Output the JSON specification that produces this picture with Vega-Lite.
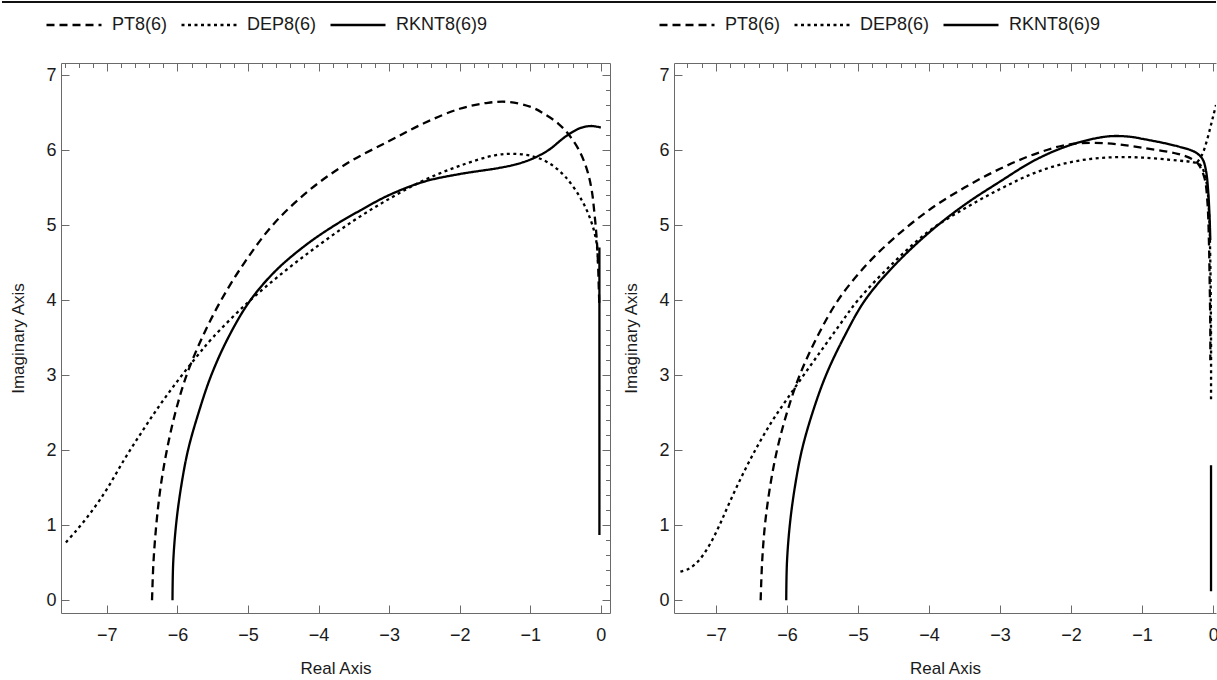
{
  "$schema": "https://vega.github.io/schema/vega-lite/v6.json",
  "background": "white",
  "padding": {"left": 0, "top": 1, "right": 0, "bottom": 0},
  "config": {"view": {"stroke": null}, "font": "Liberation Sans"},
  "spacing": 13,
  "data": {"values": [
    {"panel":"L","method":"PT8(6)","seg":1,"re":-6.36,"im":0},
    {"panel":"L","method":"PT8(6)","seg":1,"re":-6.34,"im":0.5},
    {"panel":"L","method":"PT8(6)","seg":1,"re":-6.3,"im":1.0},
    {"panel":"L","method":"PT8(6)","seg":1,"re":-6.24,"im":1.5},
    {"panel":"L","method":"PT8(6)","seg":1,"re":-6.15,"im":2.0},
    {"panel":"L","method":"PT8(6)","seg":1,"re":-6.03,"im":2.5},
    {"panel":"L","method":"PT8(6)","seg":1,"re":-5.87,"im":3.0},
    {"panel":"L","method":"PT8(6)","seg":1,"re":-5.65,"im":3.5},
    {"panel":"L","method":"PT8(6)","seg":1,"re":-5.38,"im":4.0},
    {"panel":"L","method":"PT8(6)","seg":1,"re":-5.05,"im":4.5},
    {"panel":"L","method":"PT8(6)","seg":1,"re":-4.65,"im":5.0},
    {"panel":"L","method":"PT8(6)","seg":1,"re":-4.15,"im":5.45},
    {"panel":"L","method":"PT8(6)","seg":1,"re":-3.6,"im":5.82},
    {"panel":"L","method":"PT8(6)","seg":1,"re":-3.0,"im":6.12},
    {"panel":"L","method":"PT8(6)","seg":1,"re":-2.5,"im":6.36},
    {"panel":"L","method":"PT8(6)","seg":1,"re":-2.0,"im":6.55},
    {"panel":"L","method":"PT8(6)","seg":1,"re":-1.6,"im":6.63},
    {"panel":"L","method":"PT8(6)","seg":1,"re":-1.3,"im":6.64},
    {"panel":"L","method":"PT8(6)","seg":1,"re":-0.98,"im":6.57},
    {"panel":"L","method":"PT8(6)","seg":1,"re":-0.8,"im":6.48},
    {"panel":"L","method":"PT8(6)","seg":1,"re":-0.6,"im":6.35},
    {"panel":"L","method":"PT8(6)","seg":1,"re":-0.45,"im":6.2},
    {"panel":"L","method":"PT8(6)","seg":1,"re":-0.31,"im":6.0},
    {"panel":"L","method":"PT8(6)","seg":1,"re":-0.2,"im":5.75},
    {"panel":"L","method":"PT8(6)","seg":1,"re":-0.13,"im":5.47},
    {"panel":"L","method":"PT8(6)","seg":1,"re":-0.09,"im":5.15},
    {"panel":"L","method":"PT8(6)","seg":1,"re":-0.06,"im":4.84},
    {"panel":"L","method":"PT8(6)","seg":1,"re":-0.04,"im":4.5},
    {"panel":"L","method":"PT8(6)","seg":1,"re":-0.03,"im":4.2},
    {"panel":"L","method":"PT8(6)","seg":1,"re":-0.02,"im":3.9},

    {"panel":"L","method":"DEP8(6)","seg":1,"re":-7.58,"im":0.77},
    {"panel":"L","method":"DEP8(6)","seg":1,"re":-7.45,"im":0.91},
    {"panel":"L","method":"DEP8(6)","seg":1,"re":-7.3,"im":1.08},
    {"panel":"L","method":"DEP8(6)","seg":1,"re":-7.15,"im":1.27},
    {"panel":"L","method":"DEP8(6)","seg":1,"re":-7.0,"im":1.48},
    {"panel":"L","method":"DEP8(6)","seg":1,"re":-6.75,"im":1.88},
    {"panel":"L","method":"DEP8(6)","seg":1,"re":-6.5,"im":2.25},
    {"panel":"L","method":"DEP8(6)","seg":1,"re":-6.25,"im":2.6},
    {"panel":"L","method":"DEP8(6)","seg":1,"re":-6.0,"im":2.92},
    {"panel":"L","method":"DEP8(6)","seg":1,"re":-5.75,"im":3.22},
    {"panel":"L","method":"DEP8(6)","seg":1,"re":-5.5,"im":3.5},
    {"panel":"L","method":"DEP8(6)","seg":1,"re":-5.0,"im":3.97},
    {"panel":"L","method":"DEP8(6)","seg":1,"re":-4.5,"im":4.37},
    {"panel":"L","method":"DEP8(6)","seg":1,"re":-4.0,"im":4.73},
    {"panel":"L","method":"DEP8(6)","seg":1,"re":-3.5,"im":5.06},
    {"panel":"L","method":"DEP8(6)","seg":1,"re":-3.0,"im":5.35},
    {"panel":"L","method":"DEP8(6)","seg":1,"re":-2.5,"im":5.6},
    {"panel":"L","method":"DEP8(6)","seg":1,"re":-2.0,"im":5.79},
    {"panel":"L","method":"DEP8(6)","seg":1,"re":-1.5,"im":5.93},
    {"panel":"L","method":"DEP8(6)","seg":1,"re":-1.25,"im":5.95},
    {"panel":"L","method":"DEP8(6)","seg":1,"re":-0.98,"im":5.92},
    {"panel":"L","method":"DEP8(6)","seg":1,"re":-0.74,"im":5.83},
    {"panel":"L","method":"DEP8(6)","seg":1,"re":-0.5,"im":5.64},
    {"panel":"L","method":"DEP8(6)","seg":1,"re":-0.27,"im":5.33},
    {"panel":"L","method":"DEP8(6)","seg":1,"re":-0.13,"im":5.03},
    {"panel":"L","method":"DEP8(6)","seg":1,"re":-0.06,"im":4.76},
    {"panel":"L","method":"DEP8(6)","seg":1,"re":-0.04,"im":4.5},

    {"panel":"L","method":"RKNT8(6)9","seg":1,"re":-6.07,"im":0},
    {"panel":"L","method":"RKNT8(6)9","seg":1,"re":-6.06,"im":0.5},
    {"panel":"L","method":"RKNT8(6)9","seg":1,"re":-6.02,"im":1.0},
    {"panel":"L","method":"RKNT8(6)9","seg":1,"re":-5.95,"im":1.5},
    {"panel":"L","method":"RKNT8(6)9","seg":1,"re":-5.85,"im":2.0},
    {"panel":"L","method":"RKNT8(6)9","seg":1,"re":-5.7,"im":2.5},
    {"panel":"L","method":"RKNT8(6)9","seg":1,"re":-5.52,"im":3.0},
    {"panel":"L","method":"RKNT8(6)9","seg":1,"re":-5.28,"im":3.5},
    {"panel":"L","method":"RKNT8(6)9","seg":1,"re":-4.98,"im":3.98},
    {"panel":"L","method":"RKNT8(6)9","seg":1,"re":-4.62,"im":4.38},
    {"panel":"L","method":"RKNT8(6)9","seg":1,"re":-4.2,"im":4.72},
    {"panel":"L","method":"RKNT8(6)9","seg":1,"re":-3.8,"im":4.98},
    {"panel":"L","method":"RKNT8(6)9","seg":1,"re":-3.4,"im":5.2},
    {"panel":"L","method":"RKNT8(6)9","seg":1,"re":-3.0,"im":5.4},
    {"panel":"L","method":"RKNT8(6)9","seg":1,"re":-2.5,"im":5.58},
    {"panel":"L","method":"RKNT8(6)9","seg":1,"re":-2.0,"im":5.68},
    {"panel":"L","method":"RKNT8(6)9","seg":1,"re":-1.45,"im":5.76},
    {"panel":"L","method":"RKNT8(6)9","seg":1,"re":-1.2,"im":5.81},
    {"panel":"L","method":"RKNT8(6)9","seg":1,"re":-0.98,"im":5.88},
    {"panel":"L","method":"RKNT8(6)9","seg":1,"re":-0.74,"im":6.0},
    {"panel":"L","method":"RKNT8(6)9","seg":1,"re":-0.5,"im":6.18},
    {"panel":"L","method":"RKNT8(6)9","seg":1,"re":-0.3,"im":6.29},
    {"panel":"L","method":"RKNT8(6)9","seg":1,"re":-0.15,"im":6.32},
    {"panel":"L","method":"RKNT8(6)9","seg":1,"re":-0.05,"im":6.31},
    {"panel":"L","method":"RKNT8(6)9","seg":1,"re":0.0,"im":6.3},
    {"panel":"L","method":"RKNT8(6)9","seg":2,"re":-0.02,"im":4.7},
    {"panel":"L","method":"RKNT8(6)9","seg":2,"re":-0.02,"im":0.87},

    {"panel":"R","method":"PT8(6)","seg":1,"re":-6.37,"im":0},
    {"panel":"R","method":"PT8(6)","seg":1,"re":-6.35,"im":0.5},
    {"panel":"R","method":"PT8(6)","seg":1,"re":-6.31,"im":1.0},
    {"panel":"R","method":"PT8(6)","seg":1,"re":-6.24,"im":1.5},
    {"panel":"R","method":"PT8(6)","seg":1,"re":-6.14,"im":2.0},
    {"panel":"R","method":"PT8(6)","seg":1,"re":-6.0,"im":2.5},
    {"panel":"R","method":"PT8(6)","seg":1,"re":-5.82,"im":3.0},
    {"panel":"R","method":"PT8(6)","seg":1,"re":-5.58,"im":3.5},
    {"panel":"R","method":"PT8(6)","seg":1,"re":-5.28,"im":4.0},
    {"panel":"R","method":"PT8(6)","seg":1,"re":-4.9,"im":4.45},
    {"panel":"R","method":"PT8(6)","seg":1,"re":-4.5,"im":4.82},
    {"panel":"R","method":"PT8(6)","seg":1,"re":-4.0,"im":5.2},
    {"panel":"R","method":"PT8(6)","seg":1,"re":-3.5,"im":5.5},
    {"panel":"R","method":"PT8(6)","seg":1,"re":-3.0,"im":5.75},
    {"panel":"R","method":"PT8(6)","seg":1,"re":-2.5,"im":5.95},
    {"panel":"R","method":"PT8(6)","seg":1,"re":-2.0,"im":6.08},
    {"panel":"R","method":"PT8(6)","seg":1,"re":-1.5,"im":6.09},
    {"panel":"R","method":"PT8(6)","seg":1,"re":-1.0,"im":6.03},
    {"panel":"R","method":"PT8(6)","seg":1,"re":-0.5,"im":5.95},
    {"panel":"R","method":"PT8(6)","seg":1,"re":-0.3,"im":5.88},
    {"panel":"R","method":"PT8(6)","seg":1,"re":-0.2,"im":5.8},
    {"panel":"R","method":"PT8(6)","seg":1,"re":-0.12,"im":5.62},
    {"panel":"R","method":"PT8(6)","seg":1,"re":-0.08,"im":5.3},
    {"panel":"R","method":"PT8(6)","seg":1,"re":-0.06,"im":4.8},
    {"panel":"R","method":"PT8(6)","seg":1,"re":-0.05,"im":4.3},
    {"panel":"R","method":"PT8(6)","seg":1,"re":-0.04,"im":3.6},
    {"panel":"R","method":"PT8(6)","seg":1,"re":-0.04,"im":3.2},

    {"panel":"R","method":"DEP8(6)","seg":1,"re":-7.5,"im":0.38},
    {"panel":"R","method":"DEP8(6)","seg":1,"re":-7.38,"im":0.42},
    {"panel":"R","method":"DEP8(6)","seg":1,"re":-7.25,"im":0.52},
    {"panel":"R","method":"DEP8(6)","seg":1,"re":-7.1,"im":0.72},
    {"panel":"R","method":"DEP8(6)","seg":1,"re":-6.95,"im":1.0},
    {"panel":"R","method":"DEP8(6)","seg":1,"re":-6.8,"im":1.32},
    {"panel":"R","method":"DEP8(6)","seg":1,"re":-6.6,"im":1.72},
    {"panel":"R","method":"DEP8(6)","seg":1,"re":-6.4,"im":2.08},
    {"panel":"R","method":"DEP8(6)","seg":1,"re":-6.2,"im":2.4},
    {"panel":"R","method":"DEP8(6)","seg":1,"re":-6.0,"im":2.68},
    {"panel":"R","method":"DEP8(6)","seg":1,"re":-5.75,"im":3.02},
    {"panel":"R","method":"DEP8(6)","seg":1,"re":-5.5,"im":3.35},
    {"panel":"R","method":"DEP8(6)","seg":1,"re":-5.25,"im":3.68},
    {"panel":"R","method":"DEP8(6)","seg":1,"re":-5.0,"im":4.0},
    {"panel":"R","method":"DEP8(6)","seg":1,"re":-4.5,"im":4.5},
    {"panel":"R","method":"DEP8(6)","seg":1,"re":-4.0,"im":4.92},
    {"panel":"R","method":"DEP8(6)","seg":1,"re":-3.5,"im":5.22},
    {"panel":"R","method":"DEP8(6)","seg":1,"re":-3.0,"im":5.48},
    {"panel":"R","method":"DEP8(6)","seg":1,"re":-2.5,"im":5.7},
    {"panel":"R","method":"DEP8(6)","seg":1,"re":-2.0,"im":5.84},
    {"panel":"R","method":"DEP8(6)","seg":1,"re":-1.5,"im":5.9},
    {"panel":"R","method":"DEP8(6)","seg":1,"re":-1.0,"im":5.9},
    {"panel":"R","method":"DEP8(6)","seg":1,"re":-0.5,"im":5.86},
    {"panel":"R","method":"DEP8(6)","seg":1,"re":-0.3,"im":5.84},
    {"panel":"R","method":"DEP8(6)","seg":1,"re":-0.18,"im":5.8},
    {"panel":"R","method":"DEP8(6)","seg":1,"re":-0.1,"im":5.6},
    {"panel":"R","method":"DEP8(6)","seg":1,"re":-0.06,"im":5.2},
    {"panel":"R","method":"DEP8(6)","seg":1,"re":-0.04,"im":4.5},
    {"panel":"R","method":"DEP8(6)","seg":1,"re":-0.03,"im":3.5},
    {"panel":"R","method":"DEP8(6)","seg":1,"re":-0.03,"im":2.65},
    {"panel":"R","method":"DEP8(6)","seg":2,"re":-0.22,"im":5.84},
    {"panel":"R","method":"DEP8(6)","seg":2,"re":-0.15,"im":5.95},
    {"panel":"R","method":"DEP8(6)","seg":2,"re":-0.09,"im":6.12},
    {"panel":"R","method":"DEP8(6)","seg":2,"re":-0.04,"im":6.3},
    {"panel":"R","method":"DEP8(6)","seg":2,"re":0.0,"im":6.45},
    {"panel":"R","method":"DEP8(6)","seg":2,"re":0.04,"im":6.6},

    {"panel":"R","method":"RKNT8(6)9","seg":1,"re":-6.01,"im":0},
    {"panel":"R","method":"RKNT8(6)9","seg":1,"re":-6.0,"im":0.5},
    {"panel":"R","method":"RKNT8(6)9","seg":1,"re":-5.96,"im":1.0},
    {"panel":"R","method":"RKNT8(6)9","seg":1,"re":-5.89,"im":1.5},
    {"panel":"R","method":"RKNT8(6)9","seg":1,"re":-5.79,"im":2.0},
    {"panel":"R","method":"RKNT8(6)9","seg":1,"re":-5.64,"im":2.5},
    {"panel":"R","method":"RKNT8(6)9","seg":1,"re":-5.45,"im":3.0},
    {"panel":"R","method":"RKNT8(6)9","seg":1,"re":-5.2,"im":3.5},
    {"panel":"R","method":"RKNT8(6)9","seg":1,"re":-4.9,"im":4.0},
    {"panel":"R","method":"RKNT8(6)9","seg":1,"re":-4.5,"im":4.45},
    {"panel":"R","method":"RKNT8(6)9","seg":1,"re":-4.0,"im":4.9},
    {"panel":"R","method":"RKNT8(6)9","seg":1,"re":-3.5,"im":5.27},
    {"panel":"R","method":"RKNT8(6)9","seg":1,"re":-3.0,"im":5.58},
    {"panel":"R","method":"RKNT8(6)9","seg":1,"re":-2.5,"im":5.87},
    {"panel":"R","method":"RKNT8(6)9","seg":1,"re":-2.0,"im":6.07},
    {"panel":"R","method":"RKNT8(6)9","seg":1,"re":-1.5,"im":6.18},
    {"panel":"R","method":"RKNT8(6)9","seg":1,"re":-1.2,"im":6.18},
    {"panel":"R","method":"RKNT8(6)9","seg":1,"re":-1.0,"im":6.15},
    {"panel":"R","method":"RKNT8(6)9","seg":1,"re":-0.5,"im":6.05},
    {"panel":"R","method":"RKNT8(6)9","seg":1,"re":-0.25,"im":5.97},
    {"panel":"R","method":"RKNT8(6)9","seg":1,"re":-0.15,"im":5.88},
    {"panel":"R","method":"RKNT8(6)9","seg":1,"re":-0.1,"im":5.72},
    {"panel":"R","method":"RKNT8(6)9","seg":1,"re":-0.07,"im":5.45},
    {"panel":"R","method":"RKNT8(6)9","seg":1,"re":-0.05,"im":5.1},
    {"panel":"R","method":"RKNT8(6)9","seg":1,"re":-0.04,"im":4.8},
    {"panel":"R","method":"RKNT8(6)9","seg":2,"re":-0.03,"im":1.8},
    {"panel":"R","method":"RKNT8(6)9","seg":2,"re":-0.03,"im":0.12}
  ]},
  "vconcat": [
    {
      "width": 1155, "height": 1,
      "data": {"values": [{"from": -0.0511, "to": 1, "edge": 1}]},
      "mark": {"type": "rule", "color": "#111111", "strokeWidth": 2, "clip": false},
      "encoding": {
        "x": {"field": "from", "type": "quantitative", "scale": {"domain": [0, 1], "nice": false, "zero": false}, "axis": null},
        "x2": {"field": "to"},
        "y": {"field": "edge", "type": "quantitative", "scale": {"domain": [0, 1]}, "axis": null}
      }
    },
    {
      "spacing": 11,
      "resolve": {"scale": {"strokeDash": "independent"}, "legend": {"strokeDash": "independent"}},
      "hconcat": [
        {
          "width": 549, "height": 550,
          "transform": [{"filter": "datum.panel === 'L'"}],
          "layer": [
            {
              "mark": {"type": "line", "interpolate": "catmull-rom", "strokeWidth": 2.3, "color": "black", "clip": true, "strokeCap": "butt", "strokeJoin": "round"},
              "encoding": {
                "x": {"field": "re", "type": "quantitative", "scale": {"domain": [-7.65, 0.13], "nice": false, "zero": false},
                  "axis": {"orient": "bottom", "tickCount": 40,
                    "format": "d", "labelExpr": "abs(datum.value - round(datum.value)) < 0.001 ? datum.label : ''",
                    "labelFlush": false, "labelOverlap": false, "labelFontSize": 18, "labelColor": "#1a1a1a", "labelPadding": 21,
                    "tickSize": {"condition": {"test": "abs(datum.value - round(datum.value)) < 0.001", "value": -8}, "value": -4.5},
                    "tickColor": "#6a6a6a", "domainColor": "#6a6a6a", "grid": false,
                    "title": "Real Axis", "titleFontSize": 17, "titleFontWeight": "normal", "titleColor": "#1a1a1a", "titlePadding": 16}},
                "y": {"field": "im", "type": "quantitative", "scale": {"domain": [-0.17, 7.16], "nice": false, "zero": false},
                  "axis": {"orient": "left", "tickCount": 36,
                    "format": "d", "labelExpr": "abs(datum.value - round(datum.value)) < 0.001 ? datum.label : ''",
                    "labelFlush": false, "labelOverlap": false, "labelFontSize": 18, "labelColor": "#1a1a1a", "labelPadding": 13,
                    "tickSize": {"condition": {"test": "abs(datum.value - round(datum.value)) < 0.001", "value": -8}, "value": -4.5},
                    "tickColor": "#6a6a6a", "domainColor": "#6a6a6a", "grid": false,
                    "title": "Imaginary Axis", "titleFontSize": 17, "titleFontWeight": "normal", "titleColor": "#1a1a1a", "titlePadding": 18}},
                "strokeDash": {"field": "method", "type": "nominal",
                  "scale": {"domain": ["PT8(6)", "DEP8(6)", "RKNT8(6)9"], "range": [[8, 5], [3, 3.5], [1, 0]]},
                  "legend": {"title": null, "orient": "none", "legendX": 4, "legendY": -47, "direction": "horizontal", "gridAlign": "none",
                    "symbolType": "M-5,0L5,0", "symbolSize": 121, "symbolStrokeWidth": 2.3, "symbolStrokeColor": "black",
                    "labelFontSize": 18, "labelColor": "#1a1a1a", "labelOffset": 29, "columnPadding": 8, "padding": 0}},
                "detail": {"field": "seg", "type": "nominal"},
                "order": {"value": null}
              }
            },
            {
              "mark": {"type": "point", "opacity": 0},
              "encoding": {
                "x": {"field": "re", "type": "quantitative", "scale": {"domain": [-7.65, 0.13], "nice": false, "zero": false},
                  "axis": {"orient": "top", "tickCount": 40, "labels": false, "title": null, "grid": false,
                    "tickSize": {"condition": {"test": "abs(datum.value - round(datum.value)) < 0.001", "value": -8}, "value": -4.5},
                    "tickColor": "#6a6a6a", "domainColor": "#6a6a6a"}},
                "y": {"field": "im", "type": "quantitative", "scale": {"domain": [-0.17, 7.16], "nice": false, "zero": false},
                  "axis": {"orient": "right", "tickCount": 36, "labels": false, "title": null, "grid": false,
                    "tickSize": {"condition": {"test": "abs(datum.value - round(datum.value)) < 0.001", "value": -8}, "value": -4.5},
                    "tickColor": "#6a6a6a", "domainColor": "#6a6a6a"}}
              }
            }
          ],
          "resolve": {"axis": {"x": "independent", "y": "independent"}}
        },
        {
          "width": 542, "height": 550,
          "transform": [{"filter": "datum.panel === 'R'"}],
          "layer": [
            {
              "mark": {"type": "line", "interpolate": "catmull-rom", "strokeWidth": 2.3, "color": "black", "clip": true, "strokeCap": "butt", "strokeJoin": "round"},
              "encoding": {
                "x": {"field": "re", "type": "quantitative", "scale": {"domain": [-7.59, 0.04], "nice": false, "zero": false},
                  "axis": {"orient": "bottom", "tickCount": 40,
                    "format": "d", "labelExpr": "abs(datum.value - round(datum.value)) < 0.001 ? datum.label : ''",
                    "labelFlush": true, "labelOverlap": false, "labelFontSize": 18, "labelColor": "#1a1a1a", "labelPadding": 21,
                    "tickSize": {"condition": {"test": "abs(datum.value - round(datum.value)) < 0.001", "value": -8}, "value": -4.5},
                    "tickColor": "#6a6a6a", "domainColor": "#6a6a6a", "grid": false,
                    "title": "Real Axis", "titleFontSize": 17, "titleFontWeight": "normal", "titleColor": "#1a1a1a", "titlePadding": 16}},
                "y": {"field": "im", "type": "quantitative", "scale": {"domain": [-0.17, 7.16], "nice": false, "zero": false},
                  "axis": {"orient": "left", "tickCount": 36,
                    "format": "d", "labelExpr": "abs(datum.value - round(datum.value)) < 0.001 ? datum.label : ''",
                    "labelFlush": false, "labelOverlap": false, "labelFontSize": 18, "labelColor": "#1a1a1a", "labelPadding": 13,
                    "tickSize": {"condition": {"test": "abs(datum.value - round(datum.value)) < 0.001", "value": -8}, "value": -4.5},
                    "tickColor": "#6a6a6a", "domainColor": "#6a6a6a", "grid": false,
                    "title": "Imaginary Axis", "titleFontSize": 17, "titleFontWeight": "normal", "titleColor": "#1a1a1a", "titlePadding": 18}},
                "strokeDash": {"field": "method", "type": "nominal",
                  "scale": {"domain": ["PT8(6)", "DEP8(6)", "RKNT8(6)9"], "range": [[8, 5], [3, 3.5], [1, 0]]},
                  "legend": {"title": null, "orient": "none", "legendX": 4, "legendY": -47, "direction": "horizontal", "gridAlign": "none",
                    "symbolType": "M-5,0L5,0", "symbolSize": 121, "symbolStrokeWidth": 2.3, "symbolStrokeColor": "black",
                    "labelFontSize": 18, "labelColor": "#1a1a1a", "labelOffset": 29, "columnPadding": 8, "padding": 0}},
                "detail": {"field": "seg", "type": "nominal"},
                "order": {"value": null}
              }
            },
            {
              "mark": {"type": "point", "opacity": 0},
              "encoding": {
                "x": {"field": "re", "type": "quantitative", "scale": {"domain": [-7.59, 0.04], "nice": false, "zero": false},
                  "axis": {"orient": "top", "tickCount": 40, "labels": false, "title": null, "grid": false,
                    "tickSize": {"condition": {"test": "abs(datum.value - round(datum.value)) < 0.001", "value": -8}, "value": -4.5},
                    "tickColor": "#6a6a6a", "domainColor": "#6a6a6a"}},
                "y": {"field": "im", "type": "quantitative", "scale": {"domain": [-0.17, 7.16], "nice": false, "zero": false}, "axis": null}
              }
            }
          ],
          "resolve": {"axis": {"x": "independent", "y": "independent"}}
        }
      ]
    }
  ]
}
